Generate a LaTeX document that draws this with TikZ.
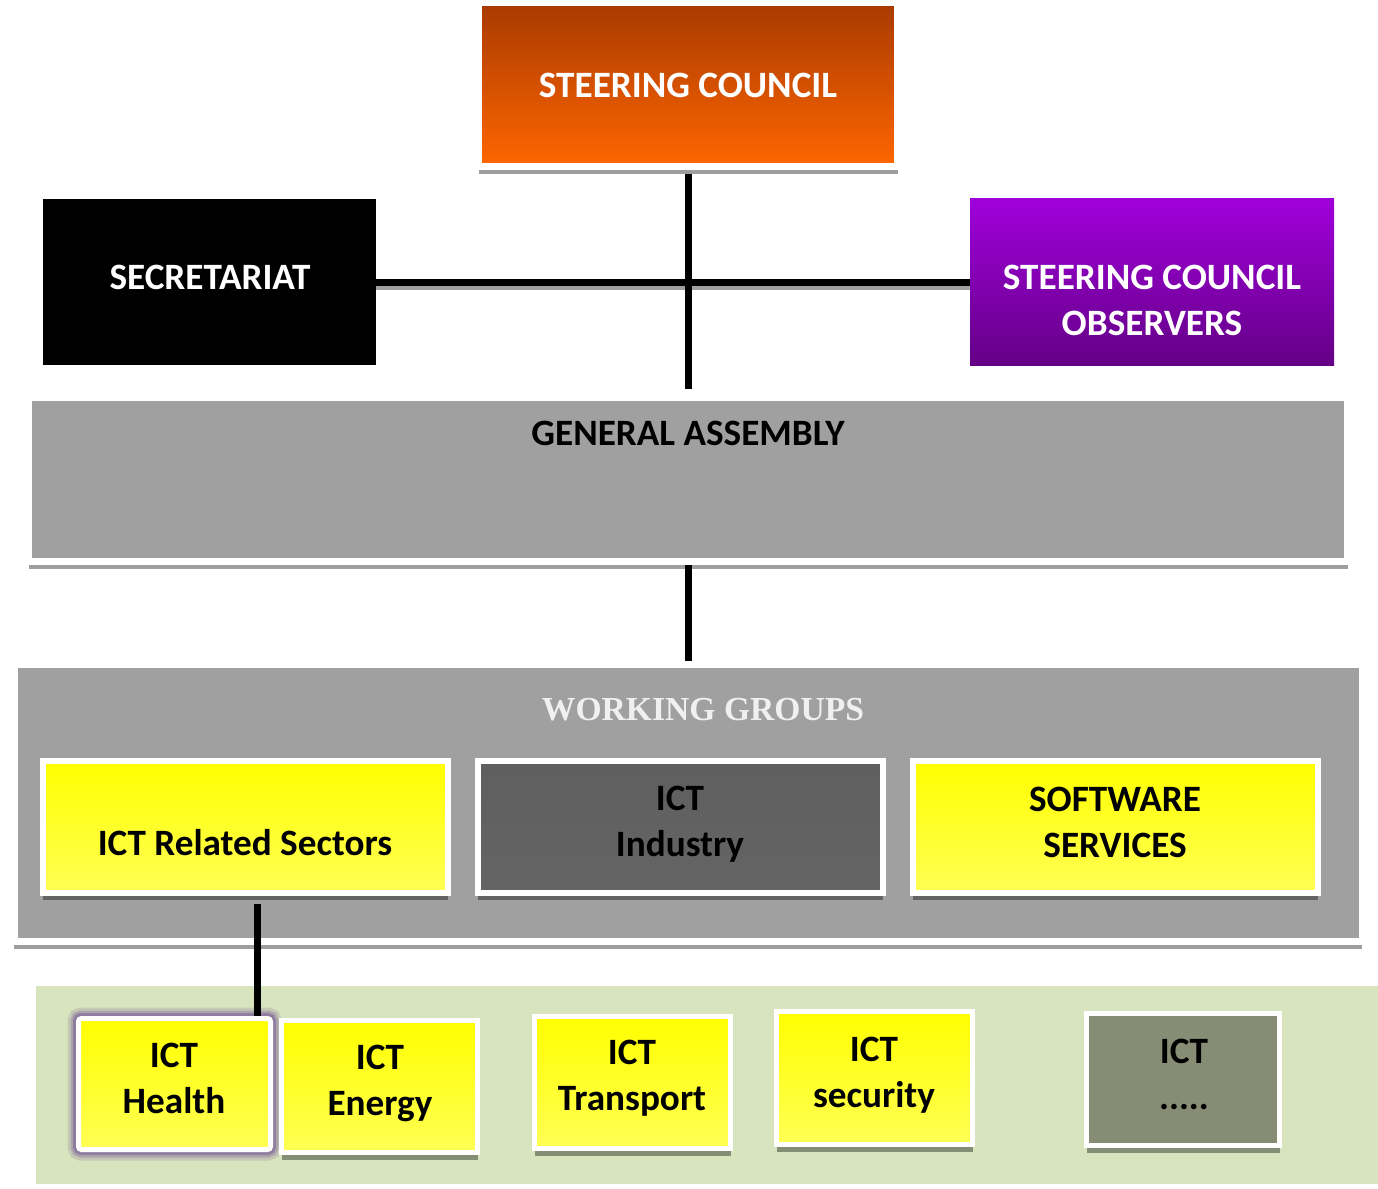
\documentclass[tikz,border=0pt]{standalone}
\usepackage{fontspec}
\setmainfont{Carlito}
\newfontfamily\wgfont{Liberation Serif}
\usetikzlibrary{shadows}

\definecolor{orangetop}{RGB}{168,58,0}
\definecolor{orangebot}{RGB}{255,102,0}
\definecolor{purpletop}{RGB}{160,0,218}
\definecolor{purplebot}{RGB}{100,0,134}
\definecolor{panelgray}{RGB}{160,160,160}
\definecolor{industrygray}{RGB}{100,100,100}
\definecolor{bandgreen}{RGB}{216,228,189}
\definecolor{olivegray}{RGB}{135,141,116}
\definecolor{glowc}{RGB}{118,88,150}
\definecolor{yellowbot}{RGB}{255,255,85}

\tikzset{
  card/.style={rectangle, draw=white, line width=3pt, inner sep=0pt,
    drop shadow={shadow xshift=0pt, shadow yshift=-3.5pt, fill=black, opacity=0.38}},
  yellowcard/.style={card, top color=yellow, bottom color=yellowbot},
  lbl/.style={font=\bfseries\fontsize{18.6}{23}\selectfont, align=center},
  conn/.style={line width=3.5pt},
  connshadow/.style={line width=3pt, draw=panelgray},
}

\begin{document}
\begin{tikzpicture}[x=0.5pt,y=-0.5pt]
\useasboundingbox (0,0) rectangle (1378,1189);
% top level
\node[card, line width=3.5pt, top color=orangetop, bottom color=orangebot,
  minimum width=209.5pt, minimum height=82pt] (steer) at (688,84.5) {};
\node[lbl, white] (steertext) at (688,85) {STEERING COUNCIL};
\node[rectangle, fill=black, minimum width=166.5pt, minimum height=83pt] (sec) at (209.5,282) {};
\node[lbl, white] (sectext) at (210,277) {SECRETARIAT};
\node[rectangle, top color=purpletop, bottom color=purplebot,
  minimum width=182pt, minimum height=83.5pt] (obs) at (1152,282) {};
\node[lbl, white] (obstext) at (1152,300) {STEERING COUNCIL\\OBSERVERS};
\node[card, line width=3.5pt, fill=panelgray, minimum width=659.5pt, minimum height=82pt] (ga) at (688,479.5) {};
\node[lbl] (gatext) at (688,433) {GENERAL ASSEMBLY};
\draw[connshadow] ([yshift=-2.5pt]sec.east) -- ([yshift=-2.5pt]obs.west);
\draw[conn] (sec) -- (obs);
\draw[conn, shorten <=2pt, shorten >=2.5pt] (steer) -- (ga);

% working groups
\node[card, line width=3.5pt, fill=panelgray, minimum width=674pt, minimum height=138.5pt] (wg) at (688,803) {};
\node[font=\wgfont\bfseries\fontsize{16.8}{21}\selectfont, text=white!94!black] (wgtext) at (703,710) {WORKING GROUPS};
\draw[conn] (ga) -- (wg);
\node[yellowcard, minimum width=202.5pt, minimum height=66pt] (rel) at (245.5,827) {};
\node[lbl] (reltext) at (245,843) {ICT Related Sectors};
\node[card, top color=industrygray!95!black, bottom color=industrygray,
  minimum width=202.5pt, minimum height=66pt] (ind) at (680.5,827) {};
\node[lbl] (indtext) at (680,824) {ICT\\Industry};
\node[yellowcard, minimum width=202.5pt, minimum height=66pt] (soft) at (1115.5,827) {};
\node[lbl] (softtext) at (1115,822) {SOFTWARE\\SERVICES};

% sectors band
\fill[bandgreen] (36,986) rectangle (1378,1184);
\node[rectangle, draw=white, line width=2.5pt, inner sep=0pt, rounded corners=1.5pt,
  top color=yellow, bottom color=yellowbot,
  preaction={draw=glowc, line width=11pt, opacity=0.2, rounded corners=5pt},
  preaction={draw=glowc, line width=8pt, opacity=0.3, rounded corners=4pt},
  preaction={draw=glowc, line width=5.5pt, opacity=0.5, rounded corners=3pt},
  minimum width=96pt, minimum height=65.5pt] (health) at (174.5,1084) {};
\node[lbl] (healthtext) at (174,1078) {ICT\\Health};
\node[yellowcard, line width=2.5pt, minimum width=98pt, minimum height=66pt] (energy) at (379.5,1086.5) {};
\node[lbl] (energytext) at (380,1083) {ICT\\Energy};
\node[yellowcard, line width=2.5pt, minimum width=98pt, minimum height=66pt] (transp) at (632.5,1082.5) {};
\node[lbl] (transptext) at (632,1078) {ICT\\Transport};
\node[yellowcard, line width=2.5pt, minimum width=98pt, minimum height=66.5pt] (secur) at (874.5,1078) {};
\node[lbl] (securtext) at (874,1075) {ICT\\security};
\node[card, line width=2.5pt, fill=olivegray, minimum width=96.5pt, minimum height=66pt] (more) at (1183,1079.5) {};
\node[lbl] (moretext) at (1184,1074) {ICT\\.....};
\draw[conn] ([xshift=6pt,yshift=-4pt]rel.south) -- ([xshift=6pt]rel.south |- health.north);
\end{tikzpicture}
\end{document}
